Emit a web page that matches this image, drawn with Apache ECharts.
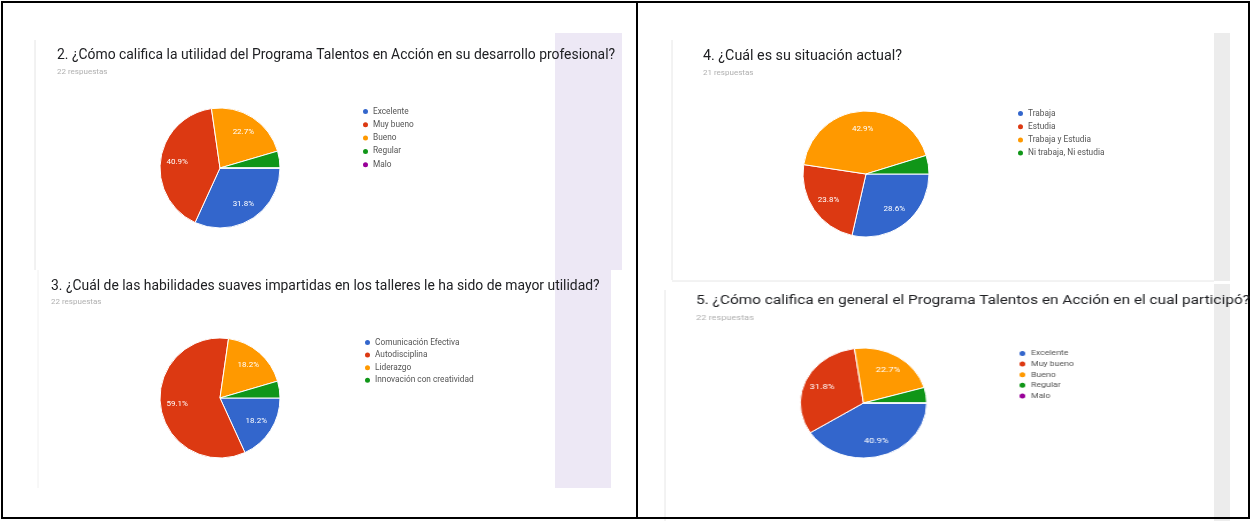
<!DOCTYPE html>
<html><head><meta charset="utf-8">
<script src="https://cdn.jsdelivr.net/npm/echarts@6/dist/echarts.min.js"></script>
<style>
html,body{margin:0;padding:0;background:#fff}
#wrap{position:relative;width:1252px;height:521px;overflow:hidden}
#c{position:absolute;left:0;top:0;width:1252px;height:521px}
#c5{position:absolute;left:640px;top:284px;width:530px;height:237px;transform:scaleX(1.15);transform-origin:0 0}
</style>
</head><body><div id="wrap"><div id="c"></div><div id="c5"></div></div>
<script>
// ---- data ----
const titles = [
  '2. ¿Cómo califica la utilidad del Programa Talentos en Acción en su desarrollo profesional?',
  '3. ¿Cuál de las habilidades suaves impartidas en los talleres le ha sido de mayor utilidad?',
  '4. ¿Cuál es su situación actual?',
  '5. ¿Cómo califica en general el Programa Talentos en Acción en el cual participó?'
];
const subtitles = ['22 respuestas','22 respuestas','21 respuestas','22 respuestas'];
const cats2 = ['Excelente','Muy bueno','Bueno','Regular','Malo'];
const vals2 = [7, 9, 5, 1, 0];
const cats3 = ['Comunicación Efectiva','Autodisciplina','Liderazgo','Innovación con creatividad'];
const vals3 = [4, 13, 4, 1];
const cats4 = ['Trabaja','Estudia','Trabaja y Estudia','Ni trabaja, Ni estudia'];
const vals4 = [6, 5, 9, 1];
const cats5 = ['Excelente','Muy bueno','Bueno','Regular','Malo'];
const vals5 = [9, 7, 5, 1, 0];

const COLORS = ['#3366cc','#dc3912','#ff9900','#109618','#990099'];
const FONT = 'Roboto, "Liberation Sans", sans-serif';

// layout of each panel (panel 5 is in a horizontally stretched sub-chart, local coords)
const panels = [
  {cats: cats2, vals: vals2, tx: 57, ty: 49, tf: 13.9, sy: 68, cx: 220, cy: 168, r: 60, lx: 361, ly: 107, gap: 4.3, lf: 8.3},
  {cats: cats3, vals: vals3, tx: 51, ty: 280, tf: 13.9, sy: 298, cx: 220, cy: 398, r: 60, lx: 363, ly: 338, gap: 3.6, lf: 8.3},
  {cats: cats4, vals: vals4, tx: 703, ty: 49, tf: 14.3, sy: 69, cx: 866, cy: 174, r: 63, lx: 1016, ly: 109, gap: 4.2, lf: 8.3},
  {cats: cats5, vals: vals5, tx: 48.7, ty: 10, tf: 13.4, sy: 30, cx: 194.3, cy: 119, r: 55, lx: 328, ly: 65, gap: 1.6, lf: 7.6}
];

function buildPanel(p, i) {
  const total = p.vals.reduce((a, b) => a + b, 0);
  const mids = [];
  let cum = 0;
  p.vals.forEach(v => { mids.push((cum + v / 2) / total * 2 * Math.PI); cum += v; });
  return {
    title: [
      {text: titles[i], left: p.tx, top: p.ty, padding: 0,
       textStyle: {fontFamily: FONT, fontSize: p.tf, fontWeight: 'normal', color: '#202124'}},
      {text: subtitles[i], left: p.tx, top: p.sy, padding: 0,
       textStyle: {fontFamily: FONT, fontSize: 8, fontWeight: 'normal', color: '#b0b0b0'}}
    ],
    legend: {
      data: p.cats, orient: 'vertical', left: p.lx, top: p.ly, padding: 0,
      icon: 'circle', itemWidth: 7, itemHeight: 7, itemGap: p.gap,
      selectedMode: false,
      textStyle: {fontFamily: FONT, fontSize: p.lf, color: '#555', padding: [0, 0, 0, -1]}
    },
    series: {
      type: 'pie', center: [p.cx, p.cy], radius: p.r,
      startAngle: 0, clockwise: true, animation: false,
      avoidLabelOverlap: false, legendHoverLink: false,
      itemStyle: {borderColor: '#fff', borderWidth: 1},
      label: {
        show: true, position: 'inside', color: '#fff', fontSize: 8, fontFamily: FONT,
        formatter: (d) => (d.value / total >= 0.08 ? (d.value / total * 100).toFixed(1) + '%' : '')
      },
      labelLayout: (lp) => {
        const a = mids[lp.dataIndex];
        return {x: p.cx + 0.72 * p.r * Math.cos(a), y: p.cy + 0.72 * p.r * Math.sin(a),
                align: 'center', verticalAlign: 'middle'};
      },
      labelLine: {show: false},
      emphasis: {disabled: true},
      data: p.cats.map((c, k) => ({name: c, value: p.vals[k], itemStyle: {color: COLORS[k]}}))
    }
  };
}

const main = echarts.init(document.getElementById('c'), null, {renderer: 'canvas'});
const sub = echarts.init(document.getElementById('c5'), null, {renderer: 'canvas'});

const title = [], legend = [], series = [];
panels.slice(0, 3).forEach((p, i) => {
  const b = buildPanel(p, i);
  title.push(...b.title); legend.push(b.legend); series.push(b.series);
});

const graphic = [
  // panel backgrounds / side strips
  {type: 'rect', shape: {x: 555, y: 33, width: 67, height: 237}, style: {fill: '#ede8f5'}, z: -10},
  {type: 'rect', shape: {x: 555, y: 270, width: 56, height: 218}, style: {fill: '#ede8f5'}, z: -10},
  {type: 'line', shape: {x1: 35, y1: 40, x2: 35, y2: 270}, style: {stroke: '#e4e4e4', lineWidth: 1}, z: -10},
  {type: 'line', shape: {x1: 38, y1: 270, x2: 38, y2: 488}, style: {stroke: '#f0f0f0', lineWidth: 1}, z: -10},
  {type: 'rect', shape: {x: 1214, y: 33, width: 16, height: 248}, style: {fill: '#ececec'}, z: -10},
  {type: 'rect', shape: {x: 1214, y: 284, width: 16, height: 237}, style: {fill: '#ececec'}, z: -10},
  {type: 'line', shape: {x1: 672, y1: 40, x2: 672, y2: 280}, style: {stroke: '#e6e6e6', lineWidth: 1}, z: -10},
  {type: 'line', shape: {x1: 672, y1: 281, x2: 1214, y2: 281}, style: {stroke: '#e6e6e6', lineWidth: 1}, z: -10},
  {type: 'line', shape: {x1: 665, y1: 290, x2: 665, y2: 521}, style: {stroke: '#e6e6e6', lineWidth: 1}, z: -10},
  // outer frame and divider
  {type: 'rect', shape: {x: 2, y: 2, width: 1247, height: 516}, style: {fill: 'none', stroke: '#000', lineWidth: 2}, z: 10},
  {type: 'line', shape: {x1: 637, y1: 2, x2: 637, y2: 519}, style: {stroke: '#000', lineWidth: 2}, z: 10}
];

main.setOption({backgroundColor: '#fff', animation: false, title, legend, series, graphic});

const b5 = buildPanel(panels[3], 3);
sub.setOption({backgroundColor: 'transparent', animation: false,
  title: b5.title, legend: [b5.legend], series: [b5.series]});
</script></body></html>
